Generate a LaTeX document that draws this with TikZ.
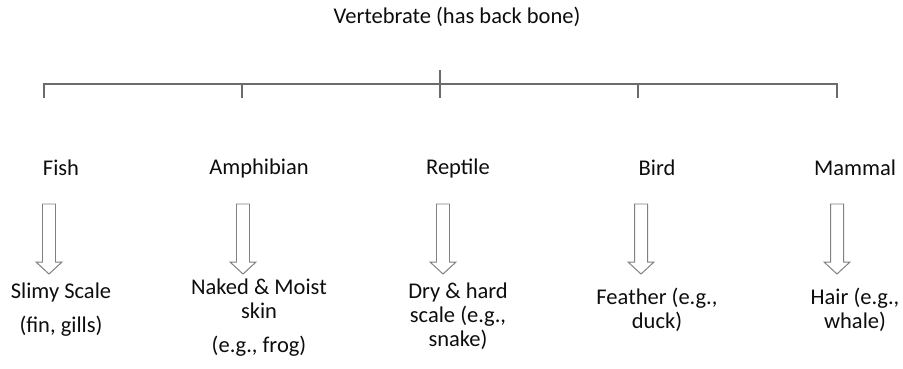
\documentclass[tikz,border=0pt]{standalone}
\usepackage{fontspec}
\setmainfont{Carlito}
\usetikzlibrary{positioning}

\begin{document}
\begin{tikzpicture}[
    label/.style={font=\fontsize{16}{17}\selectfont, text=black!95, inner sep=0pt},
    desc/.style={label, align=center, anchor=north},
    bracket/.style={draw=black!58, line width=0.9pt},
    fatarrow/.pic={
        \draw[draw=black!50, line width=0.7pt, fill=white]
            (-0.1625,0) -- (0.1625,0) -- (0.1625,-1.45) -- (0.325,-1.45)
            -- (0,-1.75) -- (-0.325,-1.45) -- (-0.1625,-1.45) -- cycle;
    }
]

\useasboundingbox (0,0) rectangle (22.575,-9.2);

\node[label] (vert) at (11.425,-0.425) {Vertebrate (has back bone)};

% bracket
\coordinate (top) at (11,-1.75);
\coordinate (bfish) at (1.1,-2.45);
\coordinate (bamph) at (6.05,-2.45);
\coordinate (brept) at (11,-2.45);
\coordinate (bbird) at (15.95,-2.45);
\coordinate (bmamm) at (20.925,-2.45);

\draw[bracket] (bfish) -- ++(0,0.35) -| (bmamm);
\draw[bracket] (bamph) -- ++(0,0.35);
\draw[bracket] (bbird) -- ++(0,0.35);
\draw[bracket] (top) -- (brept);

\node[label] (fish) at (1.525,-4.2) {Fish};
\node[label] (amph) at (6.475,-4.2) {Amphibian};
\node[label] (rept) at (11.45,-4.2) {Reptile};
\node[label] (bird) at (16.425,-4.2) {Bird};
\node[label] (mamm) at (21.375,-4.2) {Mammal};

\pic (afish) at (1.225,-5.1) {fatarrow};
\pic (aamph) at (6.075,-5.1) {fatarrow};
\pic (arept) at (11.075,-5.1) {fatarrow};
\pic (abird) at (16.025,-5.1) {fatarrow};
\pic (amamm) at (20.925,-5.1) {fatarrow};

\node[desc] (fishtxt) at (1.525,-7.075) {Slimy Scale\\[7pt](fin, gills)};
\node[desc] (amphtxt) at (6.475,-6.975) {Naked \& Moist\\skin\\[7pt](e.g., frog)};
\node[desc] (repttxt) at (11.45,-7.075) {Dry \& hard\\scale (e.g.,\\snake)};
\node[desc] (birdtxt) at (16.425,-7.2) {Feather (e.g.,\\duck)};
\node[desc] (mammtxt) at (21.375,-7.2) {Hair (e.g.,\\whale)};

\end{tikzpicture}
\end{document}
